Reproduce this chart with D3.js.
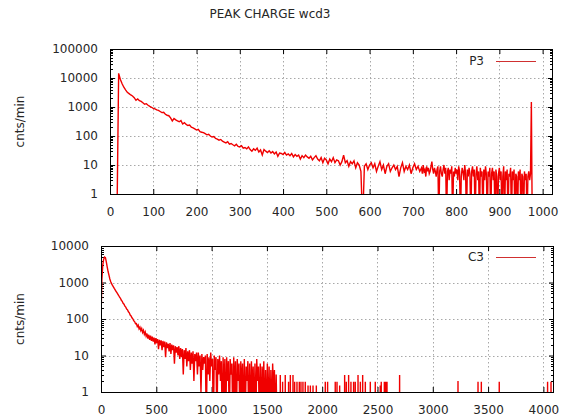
<!DOCTYPE html>
<html><head><meta charset="utf-8">
<script src="https://cdn.jsdelivr.net/npm/d3@7"></script>
<style>
body{margin:0;background:#fff}
svg{display:block}
text{font-family:"DejaVu Sans",sans-serif;font-size:12px;fill:#262626}
</style>
</head><body>
<svg id="c" width="568" height="419"></svg>
<script>
const title = "PEAK CHARGE wcd3";
const yLabel = "cnts/min";
const p3Name = "P3";
const c3Name = "C3";

// P3: one value every 4 bins, bins 0..716
const p3Step = 4;
const p3Values = [
  0,0,0,0,0,14500,8900,6300,4800,3900,
  3200,2900,2600,2400,2100,1700,1900,1650,1550,1400,
  1250,1300,1150,1050,980,900,860,800,760,700,
  640,660,560,520,500,420,330,400,360,330,
  310,340,260,290,250,230,240,200,190,175,
  160,170,140,135,130,120,110,115,100,92,
  95,82,78,72,76,66,62,58,64,52,
  55,50,46,52,44,42,46,38,40,36,
  42,34,30,36,32,38,28,33,22,34,
  30,27,31,26,29,24,28,20,26,25,
  23,27,22,24,21,25,19,23,20,22,
  16,21,18,22,19,17,20,15,18,21,
  16,14,18,12,17,15,11,16,13,18,
  12,15,14,10,13,22,12,14,9,13,
  11,14,8,12,10,6,0,9,11,7,
  10,12,8,11,6,9,13,7,10,5,
  9,11,6,8,10,7,9,4,8,12,
  6,9,7,10,5,8,11,7,9,6
];
// P3 tail: one value every 2 bins, bins 720..1022
const p3TailStart = 720;
const p3TailStep = 2;
const p3TailValues = [
  8,5,10,6,7,4,9,6,8,5,
  6,9,13,7,5,8,6,4,7,9,
  0,6,9,5,4,7,10,5,8,0,
  6,8,3,7,5,9,0,6,4,8,
  5,7,3,9,6,0,4,8,6,3,
  10,5,0,7,4,8,5,0,6,9,
  4,7,0,5,9,3,6,0,8,4,
  6,0,7,3,9,5,0,6,4,8,
  0,5,8,3,6,0,7,4,0,5,
  8,3,6,0,4,9,0,6,3,7,
  0,5,4,8,0,6,3,7,0,5,
  4,0,6,3,7,0,5,4,0,6,
  3,5,0,4,6,3,5,1500,0,0,
  0,0,0,0,0,0,0,0,0,0,
  0,0,0,0,0,0,0,0,0,0,
  0,0
];

// C3: one value every 8 bins, bins 0..1600
const c3Step = 8;
const c3Values = [
  100,1200,3000,4300,5000,4800,3700,2700,2000,1600,
  1250,1050,930,830,760,690,630,575,525,480,
  440,395,370,325,305,270,255,225,212,188,
  178,158,148,128,122,108,101,89,85,74,
  75,62,68,54,60,48,55,43,49,38,
  44,34,40,29,37,27,35,25,33,24,
  31,20,30,22,28,15,27,19,26,14,
  25,17,24,9,23,16,21,13,22,11,
  20,14,19,6,18,12,17,10,18,8,
  16,9,15,3,14,8,16,5,13,7,
  14,4,12,6,13,2,11,7,12,3,
  12,5,10,1,11,4,9,6,10,0,
  11,3,9,2,12,5,8,0,10,4,
  9,0,8,3,10,2,7,0,9,1,
  8,0,9,2,7,0,8,3,6,0,
  9,1,7,0,8,2,6,0,7,1,
  6,0,8,0,5,2,7,0,6,0,
  7,1,5,0,6,0,8,2,5,0,
  6,0,5,1,7,0,4,0,6,0,
  5,0,4,0,6,1,4,0,3,0,
  0
];
// isolated non-empty bins in the C3 tail
const c3SpikeBins = [1621,1642,1666,1696,1712,1736,1751,1772,1793,1808,1826,1847,1872,1893,1917,1947,2028,2049,2118,2134,2158,2203,2218,2239,2260,2284,2299,2324,2345,2366,2390,2435,2480,2525,2534,2562,2571,2580,2586,2700,3228,3409,3439,3601,4038,4069,4095];
const c3SpikeValues = [2.9,1.9,2.9,1.9,2.9,2.9,1.9,1.9,1.9,1.9,1.9,1.9,1.5,1.5,1.5,1.5,1.9,1.9,1.9,1.9,1.5,2.9,1.9,2.9,1.9,1.9,1.9,2.9,1.9,2.9,1.9,1.9,1.9,1.5,1.9,1.9,1.9,1.9,1.9,2.9,2,1.9,1.9,1.9,1.9,1.9,105];

const p3XTicks = [0,100,200,300,400,500,600,700,800,900,1000];
const c3XTicks = [0,500,1000,1500,2000,2500,3000,3500,4000];
const p3YTicks = [1,10,100,1000,10000,100000];
const c3YTicks = [1,10,100,1000,10000];
const p3XMax = 1024, c3XMax = 4096;

const svg = d3.select("#c");
const RED = "#f00000";

svg.append("text").attr("x", 270).attr("y", 14).attr("text-anchor", "middle")
  .attr("dominant-baseline", "central").text(title);

const p3Points = p3Values.map((v, i) => [i * p3Step, v])
  .concat(p3TailValues.map((v, i) => [p3TailStart + i * p3TailStep, v]));
const c3Points = c3Values.map((v, i) => [i * c3Step, v]);
c3SpikeBins.forEach((b, i) => {
  c3Points.push([b - 1, 0], [b, c3SpikeValues[i]]);
  if (b < c3XMax - 1) c3Points.push([b + 1, 0]);
});

function panel(cfg, id) {
  const x = d3.scaleLinear().domain([0, cfg.xMax]).range([cfg.left, cfg.right]);
  const y = d3.scaleLog().domain([1, cfg.yTicks[cfg.yTicks.length - 1]]).range([cfg.bottom, cfg.top]);
  const g = svg.append("g");
  const grid = "#a8a8a8";
  g.selectAll(".gx").data(cfg.xTicks.filter(t => x(t) > cfg.left + 1 && x(t) < cfg.right - 1)).join("line")
    .attr("x1", d => Math.round(x(d)) + 0.5).attr("x2", d => Math.round(x(d)) + 0.5)
    .attr("y1", cfg.top).attr("y2", cfg.bottom)
    .attr("stroke", grid).attr("stroke-dasharray", "1.5,2.5");
  g.selectAll(".gy").data(cfg.yTicks.slice(1, -1)).join("line")
    .attr("y1", d => Math.round(y(d)) + 0.5).attr("y2", d => Math.round(y(d)) + 0.5)
    .attr("x1", cfg.left).attr("x2", cfg.right)
    .attr("stroke", grid).attr("stroke-dasharray", "1.5,2.5");

  const minors = [];
  for (let k = 0; k < cfg.yTicks.length - 1; k++)
    for (let m = 2; m <= 9; m++) minors.push(cfg.yTicks[k] * m);
  [[cfg.left, 1], [cfg.right, -1]].forEach(([xx, dir]) => {
    g.selectAll(null).data(minors).join("line")
      .attr("x1", xx).attr("x2", xx + dir * 3)
      .attr("y1", d => Math.round(y(d)) + 0.5).attr("y2", d => Math.round(y(d)) + 0.5)
      .attr("stroke", "#000");
  });

  const ax = (sel) => { sel.select(".domain").remove(); sel.selectAll(".tick line").attr("stroke", "#000"); sel.selectAll("text").attr("fill", "#262626").style("font-family", "DejaVu Sans").style("font-size", "12px"); };
  g.append("g").attr("transform", `translate(0,${cfg.bottom})`)
    .call(d3.axisBottom(x).tickValues(cfg.xTicks).tickFormat(d3.format("d")).tickSize(-5).tickPadding(13)).call(ax);
  g.append("g").attr("transform", `translate(0,${cfg.top})`)
    .call(d3.axisTop(x).tickValues(cfg.xTicks).tickFormat("").tickSize(-5)).call(ax);
  g.append("g").attr("transform", `translate(${cfg.left},0)`)
    .call(d3.axisLeft(y).tickValues(cfg.yTicks).tickFormat(d3.format("d")).tickSize(-5).tickPadding(12)).call(ax);
  g.append("g").attr("transform", `translate(${cfg.right},0)`)
    .call(d3.axisRight(y).tickValues(cfg.yTicks).tickFormat("").tickSize(-5)).call(ax);

  svg.append("clipPath").attr("id", id).append("rect")
    .attr("x", cfg.left).attr("y", cfg.top).attr("width", cfg.right - cfg.left).attr("height", cfg.bottom - cfg.top);
  const line = d3.line().x(d => x(d[0])).y(d => y(Math.max(d[1], 0.1)));
  g.append("path").attr("clip-path", `url(#${id})`).attr("d", line(cfg.points))
    .attr("fill", "none").attr("stroke", RED).attr("stroke-width", 1.4).attr("stroke-linejoin", "miter");

  g.append("rect").attr("x", cfg.left + 0.5).attr("y", cfg.top + 0.5)
    .attr("width", cfg.right - cfg.left - 1).attr("height", cfg.bottom - cfg.top)
    .attr("fill", "none").attr("stroke", "#000");

  g.append("text").attr("x", 484).attr("y", cfg.legendY).attr("text-anchor", "end")
    .attr("dominant-baseline", "central").text(cfg.name);
  g.append("line").attr("x1", 496).attr("x2", 536).attr("y1", cfg.legendY + 0.5).attr("y2", cfg.legendY + 0.5)
    .attr("stroke", "#d03030");

  const cy = (cfg.top + cfg.bottom) / 2;
  g.append("text").attr("transform", `translate(20,${cy}) rotate(-90)`).attr("text-anchor", "middle")
    .attr("dominant-baseline", "central").text(yLabel);
}

panel({left: 110, right: 553, top: 49, bottom: 194, xMax: p3XMax, xTicks: p3XTicks, yTicks: p3YTicks,
  points: p3Points, name: p3Name, legendY: 61}, "clipP3");
panel({left: 101, right: 554, top: 246, bottom: 392, xMax: c3XMax, xTicks: c3XTicks, yTicks: c3YTicks,
  points: c3Points, name: c3Name, legendY: 257}, "clipC3");
</script>
</body></html>
